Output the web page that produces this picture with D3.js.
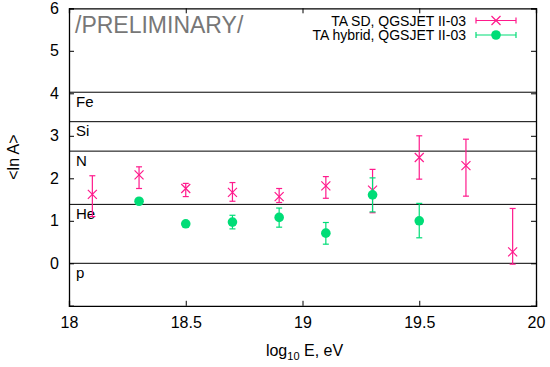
<!DOCTYPE html>
<html lang="en">

<head>
    <meta charset="utf-8">
    <title>ln A vs energy</title>
    <script type="text/javascript" src="https://d3js.org/d3.v7.min.js"></script>
    <style type="text/css">
        body { margin: 0; background: #fff; }
        svg { font-family: "Liberation Sans", Arial, sans-serif; }
    </style>
</head>

<body>
    <svg width="550" height="367"></svg>
    <script type="text/javascript">
        //Data
        const sdEnergy = [18.1, 18.3, 18.5, 18.7, 18.9, 19.1, 19.3, 19.5, 19.7, 19.9]
        const sdLnA = [1.62, 2.08, 1.76, 1.67, 1.57, 1.82, 1.72, 2.49, 2.30, 0.27]
        const sdLow = [1.10, 1.76, 1.57, 1.46, 1.43, 1.53, 1.19, 1.98, 1.58, -0.02]
        const sdHigh = [2.06, 2.27, 1.88, 1.90, 1.76, 2.04, 2.21, 3.00, 2.92, 1.29]

        const hyEnergy = [18.3, 18.5, 18.7, 18.9, 19.1, 19.3, 19.5]
        const hyLnA = [1.46, 0.93, 0.97, 1.08, 0.71, 1.61, 1.00]
        const hyLow = [1.42, 0.89, 0.81, 0.85, 0.45, 1.21, 0.60]
        const hyHigh = [1.50, 0.97, 1.13, 1.30, 0.96, 2.01, 1.41]

        //Reference nuclei lines, ln(A)
        const nuclei = ['Fe', 'Si', 'N', 'He', 'p']
        const nucleiLnA = [Math.log(56), Math.log(28), Math.log(14), Math.log(4), 0]

        const xTicks = [18, 18.5, 19, 19.5, 20]
        const yTicks = [-1, 0, 1, 2, 3, 4, 5, 6]
        const legendLabels = ['TA SD, QGSJET II-03', 'TA hybrid, QGSJET II-03']

        const pink = '#ff1a8c'
        const green = '#00dd77'

        const svg = d3.select("svg");
        const margin = { left: 69, right: 14, top: 8.3, bottom: 61.2 }
        const w = 550, h = 367

        const xScale = d3.scaleLinear().domain([18, 20]).range([margin.left, w - margin.right])
        const yScale = d3.scaleLinear().domain([-1, 6]).range([h - margin.bottom, margin.top])

        //Nuclei lines + labels
        nuclei.forEach((name, i) => {
            const y = yScale(nucleiLnA[i])
            svg.append('line')
                .attr('x1', xScale(18)).attr('x2', xScale(20))
                .attr('y1', y).attr('y2', y)
                .attr('stroke', '#000').attr('stroke-width', 1)
            svg.append('text')
                .attr('x', xScale(18) + 7).attr('y', y + 14.5)
                .attr('font-size', 15).text(name)
        })

        //Axes with inward ticks on all four sides
        const fmt = d => d3.format('')(d)
        svg.append('g')
            .attr('transform', 'translate(0,' + yScale(-1) + ')')
            .call(d3.axisBottom(xScale).tickValues(xTicks).tickSize(-5).tickPadding(11).tickFormat(fmt))
        svg.append('g')
            .attr('transform', 'translate(0,' + yScale(6) + ')')
            .call(d3.axisTop(xScale).tickValues(xTicks).tickSize(-5).tickFormat(''))
        svg.append('g')
            .attr('transform', 'translate(' + xScale(18) + ',0)')
            .call(d3.axisLeft(yScale).tickValues(yTicks).tickSize(-5).tickPadding(10)
                .tickFormat(d => d < 0 ? '' : d))
        svg.append('g')
            .attr('transform', 'translate(' + xScale(20) + ',0)')
            .call(d3.axisRight(yScale).tickValues(yTicks).tickSize(-5).tickFormat(''))

        svg.selectAll('.domain').attr('stroke', '#000').attr('stroke-width', 1.3)
        svg.selectAll('.tick line').attr('stroke', '#000')
        svg.selectAll('.tick text')
            .attr('font-size', 16).attr('fill', '#000')
            .attr('font-family', '"Liberation Sans", Arial, sans-serif')

        //Axis titles
        const xTitle = svg.append('text')
            .attr('x', (xScale(18) + xScale(20)) / 2 + 2).attr('y', 356)
            .attr('text-anchor', 'middle').attr('font-size', 16)
        xTitle.append('tspan').text('log')
        xTitle.append('tspan').attr('font-size', 11).attr('dy', 4).text('10')
        xTitle.append('tspan').attr('dy', -4).text(' E, eV')

        svg.append('text')
            .attr('transform', 'translate(19,' + ((yScale(-1) + yScale(6)) / 2) + ') rotate(-90)')
            .attr('text-anchor', 'middle').attr('font-size', 16)
            .text('<ln A>')

        //Preliminary tag
        svg.append('text')
            .attr('x', xScale(18) + 6).attr('y', 33)
            .attr('font-size', 23).attr('fill', '#777')
            .text('/PRELIMINARY/')

        //Error bar helper
        function errorBar(g, x, lo, hi, color) {
            g.append('line').attr('x1', x).attr('x2', x).attr('y1', lo).attr('y2', hi)
                .attr('stroke', color).attr('stroke-width', 1.2)
            ;[lo, hi].forEach(y => g.append('line')
                .attr('x1', x - 3).attr('x2', x + 3).attr('y1', y).attr('y2', y)
                .attr('stroke', color).attr('stroke-width', 1.2))
        }
        function cross(g, x, y, color) {
            const s = 4.5
            g.append('path')
                .attr('d', `M${x - s},${y - s}L${x + s},${y + s}M${x - s},${y + s}L${x + s},${y - s}`)
                .attr('stroke', color).attr('stroke-width', 1.2).attr('fill', 'none')
        }

        //TA SD series
        const sdGroup = svg.append('g')
        sdEnergy.forEach((e, i) => {
            errorBar(sdGroup, xScale(e), yScale(sdLow[i]), yScale(sdHigh[i]), pink)
            cross(sdGroup, xScale(e), yScale(sdLnA[i]), pink)
        })

        //TA hybrid series
        const hyGroup = svg.append('g')
        hyEnergy.forEach((e, i) => {
            errorBar(hyGroup, xScale(e), yScale(hyLow[i]), yScale(hyHigh[i]), green)
            hyGroup.append('circle')
                .attr('cx', xScale(e)).attr('cy', yScale(hyLnA[i]))
                .attr('r', 4.8).attr('fill', green)
        })

        //Legend
        const legend = svg.append('g')
        legendLabels.forEach((label, i) => {
            const y = 20.5 + i * 14.5
            const color = i === 0 ? pink : green
            legend.append('text')
                .attr('x', 466).attr('y', y + 5)
                .attr('text-anchor', 'end').attr('font-size', 14)
                .text(label)
            legend.append('line')
                .attr('x1', 476).attr('x2', 516).attr('y1', y).attr('y2', y)
                .attr('stroke', color).attr('stroke-width', 1.2)
            ;[476, 516].forEach(x => legend.append('line')
                .attr('x1', x).attr('x2', x).attr('y1', y - 3).attr('y2', y + 3)
                .attr('stroke', color).attr('stroke-width', 1.2))
            if (i === 0) cross(legend, 496, y, color)
            else legend.append('circle').attr('cx', 496).attr('cy', y).attr('r', 4.8).attr('fill', color)
        })
    </script>
</body>

</html>
